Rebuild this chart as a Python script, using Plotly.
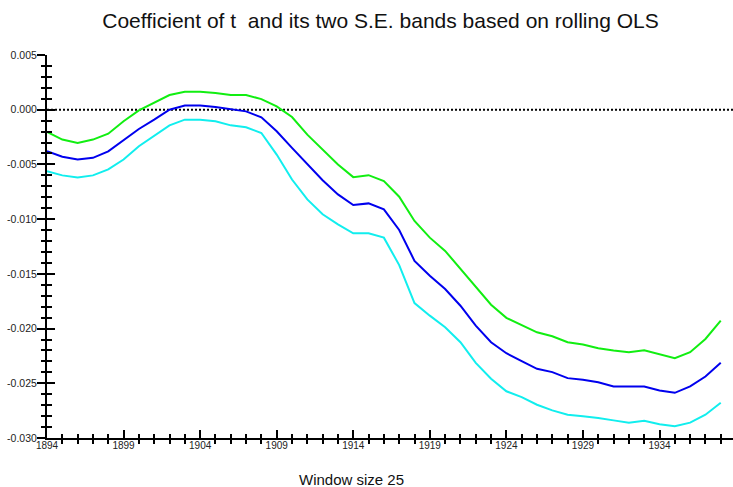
import plotly.graph_objects as go

years = list(range(1894, 1939))

coef = [-0.0038, -0.0043, -0.00455, -0.0044, -0.0038, -0.0028, -0.00176, -0.00091, 0.0000, 0.00039,
        0.00039, 0.00024, 0.00006, -0.00015, -0.0007, -0.00197, -0.00349, -0.0050, -0.00644, -0.00774,
        -0.00871, -0.00856, -0.00911, -0.01099, -0.01381, -0.01518, -0.01639, -0.01791, -0.01973, -0.02125,
        -0.02225, -0.02298, -0.02368, -0.02398, -0.02453, -0.02468, -0.0249, -0.02529, -0.02529, -0.02529,
        -0.02565, -0.02587, -0.02529, -0.02438, -0.02313]

upper = [-0.00203, -0.00273, -0.00303, -0.00273, -0.00219, -0.00106, -0.00006, 0.00067, 0.00134, 0.00164,
         0.00164, 0.00152, 0.00134, 0.00134, 0.00097, 0.0003, -0.00067, -0.00228, -0.00364, -0.0050,
         -0.00616, -0.00598, -0.00653, -0.00795, -0.01017, -0.01169, -0.0129, -0.01457, -0.01624, -0.01782,
         -0.01902, -0.01968, -0.02034, -0.0207, -0.02125, -0.02146, -0.0218, -0.02201, -0.02216, -0.02198,
         -0.02234, -0.02271, -0.02216, -0.02095, -0.01928]

lower = [-0.00562, -0.0060, -0.0062, -0.0060, -0.00546, -0.00455, -0.00334, -0.00237, -0.00143, -0.00091,
         -0.00091, -0.00106, -0.00143, -0.00161, -0.00213, -0.0041, -0.00638, -0.0082, -0.00956, -0.01047,
         -0.01129, -0.01129, -0.01169, -0.0142, -0.01767, -0.01882, -0.01988, -0.02125, -0.02313, -0.02459,
         -0.02573, -0.02626, -0.02696, -0.02748, -0.02787, -0.02802, -0.02817, -0.02839, -0.0286, -0.02842,
         -0.02875, -0.02893, -0.0286, -0.02787, -0.02678]

y_tick_vals = [0.005, 0.0, -0.005, -0.010, -0.015, -0.020, -0.025, -0.030]
y_tick_text = ["0.005", "0.000", "-0.005", "-0.010", "-0.015", "-0.020", "-0.025", "-0.030"]

title_text = "Coefficient of t  and its two S.E. bands based on rolling OLS"
x_title_text = "Window size 25"

FONT = "Liberation Sans, Arial, sans-serif"
X_RANGE = [1894, 1938.8]
Y_RANGE = [-0.030, 0.005]

fig = go.Figure()
fig.add_trace(go.Scatter(x=years, y=upper, mode="lines", line=dict(color="#11ee11", width=2),
                         hoverinfo="skip", showlegend=False))
fig.add_trace(go.Scatter(x=years, y=lower, mode="lines", line=dict(color="#11eeee", width=2),
                         hoverinfo="skip", showlegend=False))
fig.add_trace(go.Scatter(x=years, y=coef, mode="lines", line=dict(color="#0000ee", width=2),
                         hoverinfo="skip", showlegend=False))
# invisible trace to activate overlay axes (crossing ticks)
fig.add_trace(go.Scatter(x=years, y=coef, mode="lines", line=dict(color="rgba(0,0,0,0)", width=0),
                         xaxis="x2", yaxis="y2", hoverinfo="skip", showlegend=False))

fig.add_shape(type="line", xref="paper", x0=0, x1=1, yref="y", y0=0, y1=0,
              line=dict(color="black", width=2, dash="2px,2px"), layer="below")

fig.update_layout(
    width=733, height=487,
    margin=dict(l=47, r=0, t=55, b=49),
    paper_bgcolor="white", plot_bgcolor="white",
    font=dict(family=FONT, color="#111"),
    title=dict(text=title_text, x=380.5 / 733, xref="container", xanchor="center",
               y=1 - 21 / 487, yref="container", yanchor="middle",
               font=dict(size=21, family=FONT, color="#111")),
    xaxis=dict(range=X_RANGE, showgrid=False, zeroline=False, showline=True,
               linecolor="black", linewidth=2,
               tickmode="linear", tick0=1894, dtick=5, ticks="inside", ticklen=8,
               tickwidth=2, tickcolor="black", tickfont=dict(size=10, family=FONT, color="#222"),
               ticklabelstandoff=-3,
               minor=dict(tickmode="linear", tick0=1894, dtick=1, ticks="inside", ticklen=4,
                          tickwidth=2, tickcolor="black", showgrid=False)),
    xaxis2=dict(range=X_RANGE, overlaying="x", anchor="y", side="bottom", showgrid=False,
                zeroline=False, showline=False, showticklabels=False,
                tickmode="linear", tick0=1894, dtick=5, ticks="outside", ticklen=0,
                tickwidth=0,
                minor=dict(tickmode="linear", tick0=1894, dtick=1, ticks="outside", ticklen=5,
                           tickwidth=2, tickcolor="black", showgrid=False)),
    yaxis=dict(range=Y_RANGE, showgrid=False, zeroline=False, showline=True,
               linecolor="black", linewidth=2,
               tickmode="array", tickvals=y_tick_vals, ticktext=y_tick_text,
               ticks="outside", ticklen=8, tickwidth=2, tickcolor="black",
               ticklabelstandoff=-2,
               tickfont=dict(size=10.5, family=FONT, color="#222"),
               minor=dict(tickmode="linear", tick0=0, dtick=0.001, ticks="outside", ticklen=4,
                          tickwidth=2, tickcolor="black", showgrid=False)),
    yaxis2=dict(range=Y_RANGE, overlaying="y", anchor="x", side="left", showgrid=False,
                zeroline=False, showline=False, showticklabels=False,
                tickmode="array", tickvals=y_tick_vals, ticks="inside", ticklen=8,
                tickwidth=2, tickcolor="black",
                minor=dict(tickmode="linear", tick0=0, dtick=0.001, ticks="inside", ticklen=5,
                           tickwidth=2, tickcolor="black", showgrid=False)),
    annotations=[dict(text=x_title_text, xref="paper", x=(351.5 - 47) / 686, xanchor="center",
                      yref="paper", y=(438 - 479) / 383, yanchor="middle", showarrow=False,
                      font=dict(size=15, family=FONT, color="#111"))],
)

fig.write_html("out.html", config={"displayModeBar": False},
               post_script="document.body.style.margin='0';")
